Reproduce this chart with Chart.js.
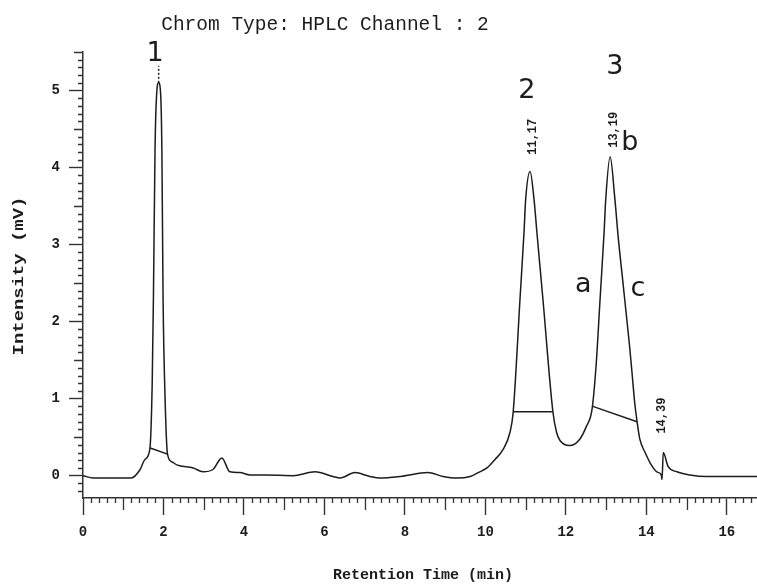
<!DOCTYPE html>
<html>
<head>
<meta charset="utf-8">
<script src="https://cdn.jsdelivr.net/npm/chart.js@4.4.1/dist/chart.umd.min.js"></script>
<style>
  html, body { margin: 0; padding: 0; background: #fff; }
  canvas { display: block; }
</style>
</head>
<body>
<canvas id="chrom" width="757" height="584"></canvas>
<script>
// trace: retention time (min) / signal (mV)
const retentionTime = [
  0.00, 0.25, 1.20, 1.42, 1.54, 1.66, 1.72, 1.75, 1.79, 1.83,
  1.88, 1.93, 1.96, 1.99, 2.04, 2.10, 2.21, 2.33, 2.74, 2.98,
  3.23, 3.45, 3.65, 3.90, 4.15, 4.57, 5.22, 5.77, 6.21, 6.39,
  6.76, 7.13, 7.38, 7.88, 8.57, 8.95, 9.29, 9.62, 9.82, 10.04,
  10.24, 10.44, 10.61, 10.69, 10.86, 10.96, 11.00, 11.11, 11.21, 11.28,
  11.43, 11.68, 11.77, 11.85, 12.09, 12.34, 12.51, 12.65, 12.75, 12.85,
  12.95, 12.99, 13.10, 13.22, 13.30, 13.40, 13.50, 13.58, 13.65, 13.71,
  13.77, 13.84, 13.97, 14.09, 14.26, 14.37, 14.39, 14.42, 14.54, 14.76,
  15.08, 15.50, 16.75
];
const intensity = [
  0.00, -0.03, -0.03, 0.08, 0.21, 0.34, 1.20, 2.30, 4.23, 4.95,
  5.10, 4.95, 4.23, 2.30, 1.00, 0.28, 0.18, 0.14, 0.10, 0.05,
  0.08, 0.23, 0.05, 0.04, 0.01, 0.01, 0.00, 0.05, -0.01, -0.03,
  0.04, -0.01, -0.03, -0.01, 0.04, -0.01, -0.03, -0.01, 0.04, 0.10,
  0.21, 0.34, 0.56, 0.82, 2.29, 3.16, 3.58, 3.95, 3.58, 3.16,
  2.29, 0.82, 0.56, 0.46, 0.39, 0.47, 0.64, 0.86, 1.42, 2.29,
  3.16, 3.58, 4.14, 3.58, 3.10, 2.60, 2.10, 1.70, 1.30, 0.95,
  0.70, 0.47, 0.30, 0.17, 0.05, 0.01, -0.05, 0.30, 0.12, 0.05,
  0.01, -0.01, -0.01
];

// integration baselines under the three main peaks
const base1Time = [1.67, 2.10];
const base1Val = [0.36, 0.28];
const base2Time = [10.69, 11.68];
const base2Val = [0.83, 0.83];
const base3Time = [12.67, 13.77];
const base3Val = [0.90, 0.70];

// dotted apex marker over peak 1
const apexMarkTime = [1.88, 1.88];
const apexMarkVal = [5.10, 5.32];

const xTickLabels = [0, 2, 4, 6, 8, 10, 12, 14, 16];
const yTickLabels = [0, 1, 2, 3, 4, 5];

// hand-written marks on the print
const noteText = ["1", "2", "3", "a", "b", "c"];
const noteTime = [1.79, 11.03, 13.22, 12.43, 13.59, 13.79];
const noteVal = [5.47, 4.99, 5.30, 2.48, 4.32, 2.42];

// printed retention times next to peaks
const rtText = ["11,17", "13,19", "14,39"];
const rtTime = [11.18, 13.20, 14.39];
const rtVal = [4.40, 4.49, 0.78];

const ink = "#1c1c1c";
const mono = "'Liberation Mono', 'DejaVu Sans Mono', monospace";

function pts(xs, ys) {
  return xs.map((x, i) => ({ x: x, y: ys[i] }));
}

const extras = {
  id: "extras",
  afterDraw(chart) {
    const ctx = chart.ctx;
    const xs = chart.scales.x;
    const ys = chart.scales.y;
    const area = chart.chartArea;
    ctx.save();
    ctx.strokeStyle = "#333";
    ctx.lineWidth = 1.3;

    // minor ticks, x every 0.2 min
    ctx.beginPath();
    for (let i = 0; i <= 83; i++) {
      if (i % 10 === 0) continue;
      const px = Math.round(xs.getPixelForValue(i / 5)) + 0.5;
      const len = i % 5 === 0 ? 12 : 5;
      ctx.moveTo(px, area.bottom);
      ctx.lineTo(px, area.bottom + len);
    }
    // minor ticks, y every 0.1 mV
    for (let i = -2; i <= 55; i++) {
      if (i % 10 === 0) continue;
      const py = Math.round(ys.getPixelForValue(i / 10)) + 0.5;
      const len = i % 5 === 0 ? 9 : 5;
      ctx.moveTo(area.left, py);
      ctx.lineTo(area.left - len, py);
    }
    ctx.stroke();

    ctx.fillStyle = ink;

    // title
    ctx.font = "19.5px " + mono;
    ctx.textAlign = "center";
    ctx.textBaseline = "alphabetic";
    ctx.fillText("Chrom Type: HPLC Channel : 2", 325, 30);

    // axis titles
    ctx.font = "bold 15px " + mono;
    ctx.textBaseline = "middle";
    ctx.fillText("Retention Time (min)", 423, 575);
    ctx.save();
    ctx.translate(19, 276);
    ctx.rotate(-Math.PI / 2);
    ctx.scale(1.26, 1);
    ctx.fillText("Intensity (mV)", 0, 0);
    ctx.restore();

    // printed retention times
    ctx.font = "bold 12px " + mono;
    rtText.forEach((t, i) => {
      ctx.save();
      ctx.translate(xs.getPixelForValue(rtTime[i]), ys.getPixelForValue(rtVal[i]));
      ctx.rotate(-Math.PI / 2);
      ctx.fillText(t, 0, 0);
      ctx.restore();
    });

    // hand-written notes
    ctx.font = "27px 'DejaVu Sans', sans-serif";
    noteText.forEach((t, i) => {
      ctx.fillText(t, xs.getPixelForValue(noteTime[i]), ys.getPixelForValue(noteVal[i]));
    });
    ctx.restore();
  }
};

const lineStyle = {
  borderColor: ink,
  borderWidth: 1.5,
  pointRadius: 0,
  fill: false
};

new Chart(document.getElementById("chrom"), {
  type: "line",
  data: {
    datasets: [
      Object.assign({ data: pts(retentionTime, intensity), cubicInterpolationMode: "monotone" }, lineStyle),
      Object.assign({ data: pts(base1Time, base1Val), tension: 0 }, lineStyle),
      Object.assign({ data: pts(base2Time, base2Val), tension: 0 }, lineStyle),
      Object.assign({ data: pts(base3Time, base3Val), tension: 0 }, lineStyle),
      Object.assign({ data: pts(apexMarkTime, apexMarkVal), tension: 0, borderDash: [2, 2] }, lineStyle)
    ]
  },
  options: {
    responsive: false,
    animation: false,
    layout: { padding: { top: 52, left: 0, right: 0, bottom: 0 } },
    plugins: { legend: { display: false }, tooltip: { enabled: false } },
    scales: {
      x: {
        type: "linear",
        min: 0,
        max: 16.75,
        afterBuildTicks: s => { s.ticks = xTickLabels.map(v => ({ value: v })); },
        afterFit: s => { s.height = 86; },
        grid: { drawOnChartArea: false, tickLength: 17, tickWidth: 1.4, tickColor: "#333" },
        border: { color: "#333", width: 1.5 },
        ticks: { font: { family: mono, weight: "bold", size: 14 }, color: ink, padding: 9, maxRotation: 0 }
      },
      y: {
        type: "linear",
        min: -0.29,
        max: 5.5,
        afterBuildTicks: s => { s.ticks = yTickLabels.map(v => ({ value: v })); },
        afterFit: s => { s.width = 83; },
        grid: { drawOnChartArea: false, tickLength: 14, tickWidth: 1.4, tickColor: "#333" },
        border: { color: "#333", width: 1.5 },
        ticks: { font: { family: mono, weight: "bold", size: 14 }, color: ink, padding: 9 }
      }
    }
  },
  plugins: [extras]
});
</script>
</body>
</html>
